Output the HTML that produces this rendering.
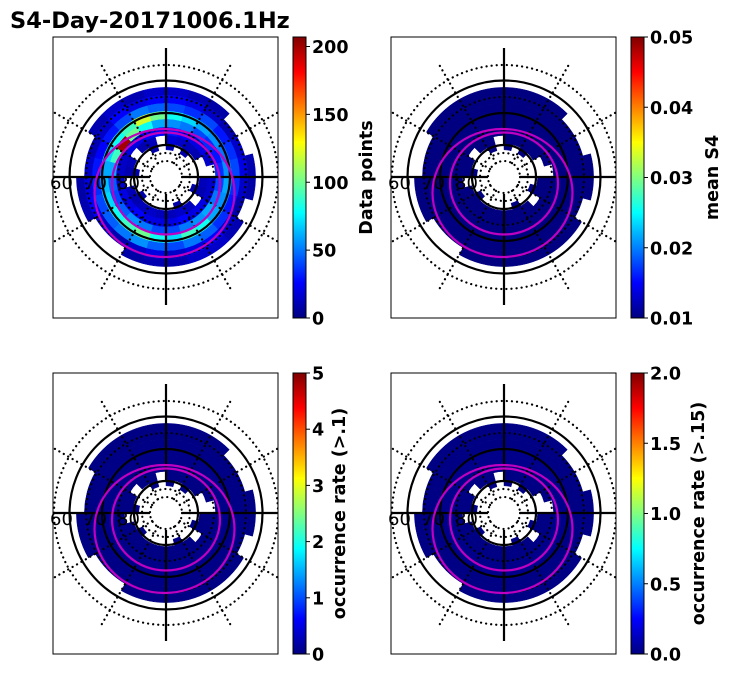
<!DOCTYPE html>
<html><head><meta charset="utf-8"><style>
html,body{margin:0;padding:0;background:#fff;}
svg{display:block;font-family:"DejaVu Sans","Liberation Sans",sans-serif;}
</style></head><body>
<svg id="fig" width="731" height="674" viewBox="0 0 731 674">
<text x="10" y="28" font-size="22.5" font-weight="bold">S4-Day-20171006.1Hz</text>
<g id="root"></g>
</svg>
<script>
// ring boundaries (magnetic latitude, degrees), outer -> inner
const ringEdges = [62, 64.5, 67, 69.5, 72, 74.5, 77, 79.5, 81.5];
// 24 MLT sectors
const sectors = [0,1,2,3,4,5,6,7,8,9,10,11,12,13,14,15,16,17,18,19,20,21,22,23];
// Data points per bin (panel 1), rows = rings outer->inner, cols = MLT hour
const dataPoints = [
 [10,15,15,10,0,8,10,0,0,8,10,15,15,10,15,10,0,0,8,10,0,0,8,10],
 [15,20,25,15,10,15,20,15,10,15,20,25,25,20,25,15,10,15,20,25,15,10,15,20],
 [40,50,45,35,30,35,40,35,30,40,35,40,45,50,40,30,25,30,35,40,45,50,55,45],
 [70,90,80,60,55,60,55,50,55,60,70,80,100,120,90,80,70,60,65,70,80,90,100,80],
 [40,50,55,60,50,40,35,30,35,40,50,55,60,80,100,200,90,60,45,40,45,55,50,40],
 [20,25,20,20,15,15,0,15,20,20,25,30,25,25,20,20,15,15,15,20,20,25,20,20],
 [12,15,12,0,10,12,0,0,10,12,15,18,0,12,10,0,12,10,0,12,10,12,15,12],
 [0,8,0,0,8,0,0,0,0,8,0,10,0,8,0,0,0,8,0,0,8,0,0,0]
];
// per-ring values for other panels (all near colour-scale minimum)
const meanS4 = [0.010,0.010,0.010,0.010,0.010,0.010,0.010,0.010];
const occRate1 = [0.02,0.02,0.03,0.04,0.04,0.02,0.02,0.02];
const occRate15 = [0.01,0.01,0.01,0.02,0.02,0.01,0.01,0.01];
// colourbar ticks
const cb1Ticks = [0,50,100,150,200];
const cb2Ticks = ["0.01","0.02","0.03","0.04","0.05"];
const cb3Ticks = [0,1,2,3,4,5];
const cb4Ticks = ["0.0","0.5","1.0","1.5","2.0"];

const NS="http://www.w3.org/2000/svg";
const root=document.getElementById('root');
function mk(tag,attrs,parent){const e=document.createElementNS(NS,tag);for(const k in attrs)e.setAttribute(k,attrs[k]);(parent||root).appendChild(e);return e;}
function jet(t){t=Math.max(0,Math.min(1,t));
 const r=Math.max(0,Math.min(1,1.5-Math.abs(4*t-3)));
 const g=Math.max(0,Math.min(1,1.5-Math.abs(4*t-2)));
 const b=Math.max(0,Math.min(1,1.5-Math.abs(4*t-1)));
 return `rgb(${Math.round(r*255)},${Math.round(g*255)},${Math.round(b*255)})`;}
const pxPerDeg=3.2;
function rOf(lat){return (90-lat)*pxPerDeg;}
function pt(cx,cy,r,a){return [cx+r*Math.sin(a), cy+r*Math.cos(a)];}
function sectorPath(cx,cy,r1,r2,a1,a2){
 const p1=pt(cx,cy,r2,a1),p2=pt(cx,cy,r2,a2),p3=pt(cx,cy,r1,a2),p4=pt(cx,cy,r1,a1);
 return `M${p1[0]},${p1[1]} A${r2},${r2} 0 0 0 ${p2[0]},${p2[1]} L${p3[0]},${p3[1]} A${r1},${r1} 0 0 1 ${p4[0]},${p4[1]}Z`;}

const panels=[
 {x:53,y:37,cbx:293,vmin:0,vmax:207,ticks:cb1Ticks,label:"Data points",lx:79,val:(i,h)=>dataPoints[i][h]},
 {x:391,y:37,cbx:631,vmin:0.01,vmax:0.05,ticks:cb2Ticks,label:"mean S4",lx:87,val:(i,h)=>meanS4[i]},
 {x:53,y:373,cbx:293,vmin:0,vmax:5,ticks:cb3Ticks,label:"occurrence rate (>.1)",lx:52,val:(i,h)=>occRate1[i]},
 {x:391,y:373,cbx:631,vmin:0,vmax:2,ticks:cb4Ticks,label:"occurrence rate (>.15)",lx:73,val:(i,h)=>occRate15[i]}
];
panels.forEach((P,pi)=>{
 const W=225,H=281,cx=P.x+113,cy=P.y+140;
 const g=mk('g',{});
 
 
 const clipId='clip'+pi;
 const cp=mk('clipPath',{id:clipId},g);mk('rect',{x:P.x,y:P.y,width:W,height:H},cp);
 const inner=mk('g',{'clip-path':`url(#${clipId})`},g);
 for(let i=0;i<ringEdges.length-1;i++){
  for(let h=0;h<sectors.length;h++){
   if(dataPoints[i][h]<=0) continue;
   const v=P.val(i,h);
   const a1=sectors[h]/24*2*Math.PI, a2=(sectors[h]+1)/24*2*Math.PI;
   const p=mk('path',{d:sectorPath(cx,cy,rOf(ringEdges[i+1]),rOf(ringEdges[i]),a1,a2),fill:jet((v-P.vmin)/(P.vmax-P.vmin)),stroke:jet((v-P.vmin)/(P.vmax-P.vmin)),'stroke-width':0.5},inner);
   
   
  }
 }
 const dot={fill:'none',stroke:'#000','stroke-width':2.2,'stroke-dasharray':'0.1 5','stroke-linecap':'round'};
 [16,24,48,80,112].forEach(r=>mk('circle',Object.assign({cx,cy,r},dot),inner));
 for(let k=0;k<12;k++){if(k%3===0)continue;const a=k*Math.PI/6;const p1=pt(cx,cy,16,a),p2=pt(cx,cy,130,a);
  mk('line',Object.assign({x1:p1[0],y1:p1[1],x2:p2[0],y2:p2[1]},dot),inner);}
 [32,64,96.5].forEach(r=>mk('circle',{cx,cy,r,fill:'none',stroke:'#000','stroke-width':2.2},inner));
 mk('line',{x1:cx,y1:cy-129,x2:cx,y2:cy-32,stroke:'#000','stroke-width':2.2},inner);
 mk('line',{x1:cx,y1:cy+17,x2:cx,y2:cy+128,stroke:'#000','stroke-width':2.2},inner);
 mk('line',{x1:P.x,y1:cy,x2:cx-16,y2:cy,stroke:'#000','stroke-width':2.2},inner);
 mk('line',{x1:cx+16,y1:cy,x2:P.x+W,y2:cy,stroke:'#000','stroke-width':2.2},inner);
 mk('ellipse',{cx:cx-1.5,cy:cy+16,rx:70,ry:64,fill:'none',stroke:'#c000c0','stroke-width':2.2},inner);
 mk('ellipse',{cx:cx,cy:cy+6.5,rx:54,ry:51,fill:'none',stroke:'#c000c0','stroke-width':2.2},inner);
 [["60",-116],["70",-82],["80",-49]].forEach(([t,dx])=>{
  const lt=mk('text',{x:cx+dx,y:cy+12,'font-size':18,fill:'#000'},g);
  lt.textContent=t;
  
  
 });
 mk('rect',{x:P.x,y:P.y,width:W,height:H,fill:'none',stroke:'#000','stroke-width':1},g);
 const cb=mk('g',{},g);
 
 
 const gid='grad'+pi;const lg=mk('linearGradient',{id:gid,x1:0,y1:1,x2:0,y2:0},cb);
 for(let s=0;s<=16;s++)mk('stop',{offset:s/16,'stop-color':jet(s/16)},lg);
 mk('rect',{x:P.cbx,y:P.y,width:13,height:H,fill:`url(#${gid})`,stroke:'#000','stroke-width':1},cb);
 P.ticks.forEach(t=>{const v=parseFloat(t);const y=P.y+H-(v-P.vmin)/(P.vmax-P.vmin)*H;
  mk('line',{x1:P.cbx+13,y1:y,x2:P.cbx+17,y2:y,stroke:'#000','stroke-width':1},cb);
  const tx=mk('text',{x:P.cbx+19,y:y+6.5,'font-size':17.5,'font-weight':'bold'},cb);tx.textContent=String(t);
  
  });
 const lx=P.cbx+P.lx;
 const lab=mk('text',{x:lx,y:P.y+H/2,'font-size':17.5,'font-weight':'bold','text-anchor':'middle',transform:`rotate(-90 ${lx} ${P.y+H/2})`},cb);
 lab.textContent=P.label;
 
 
});
</script>
</body></html>
